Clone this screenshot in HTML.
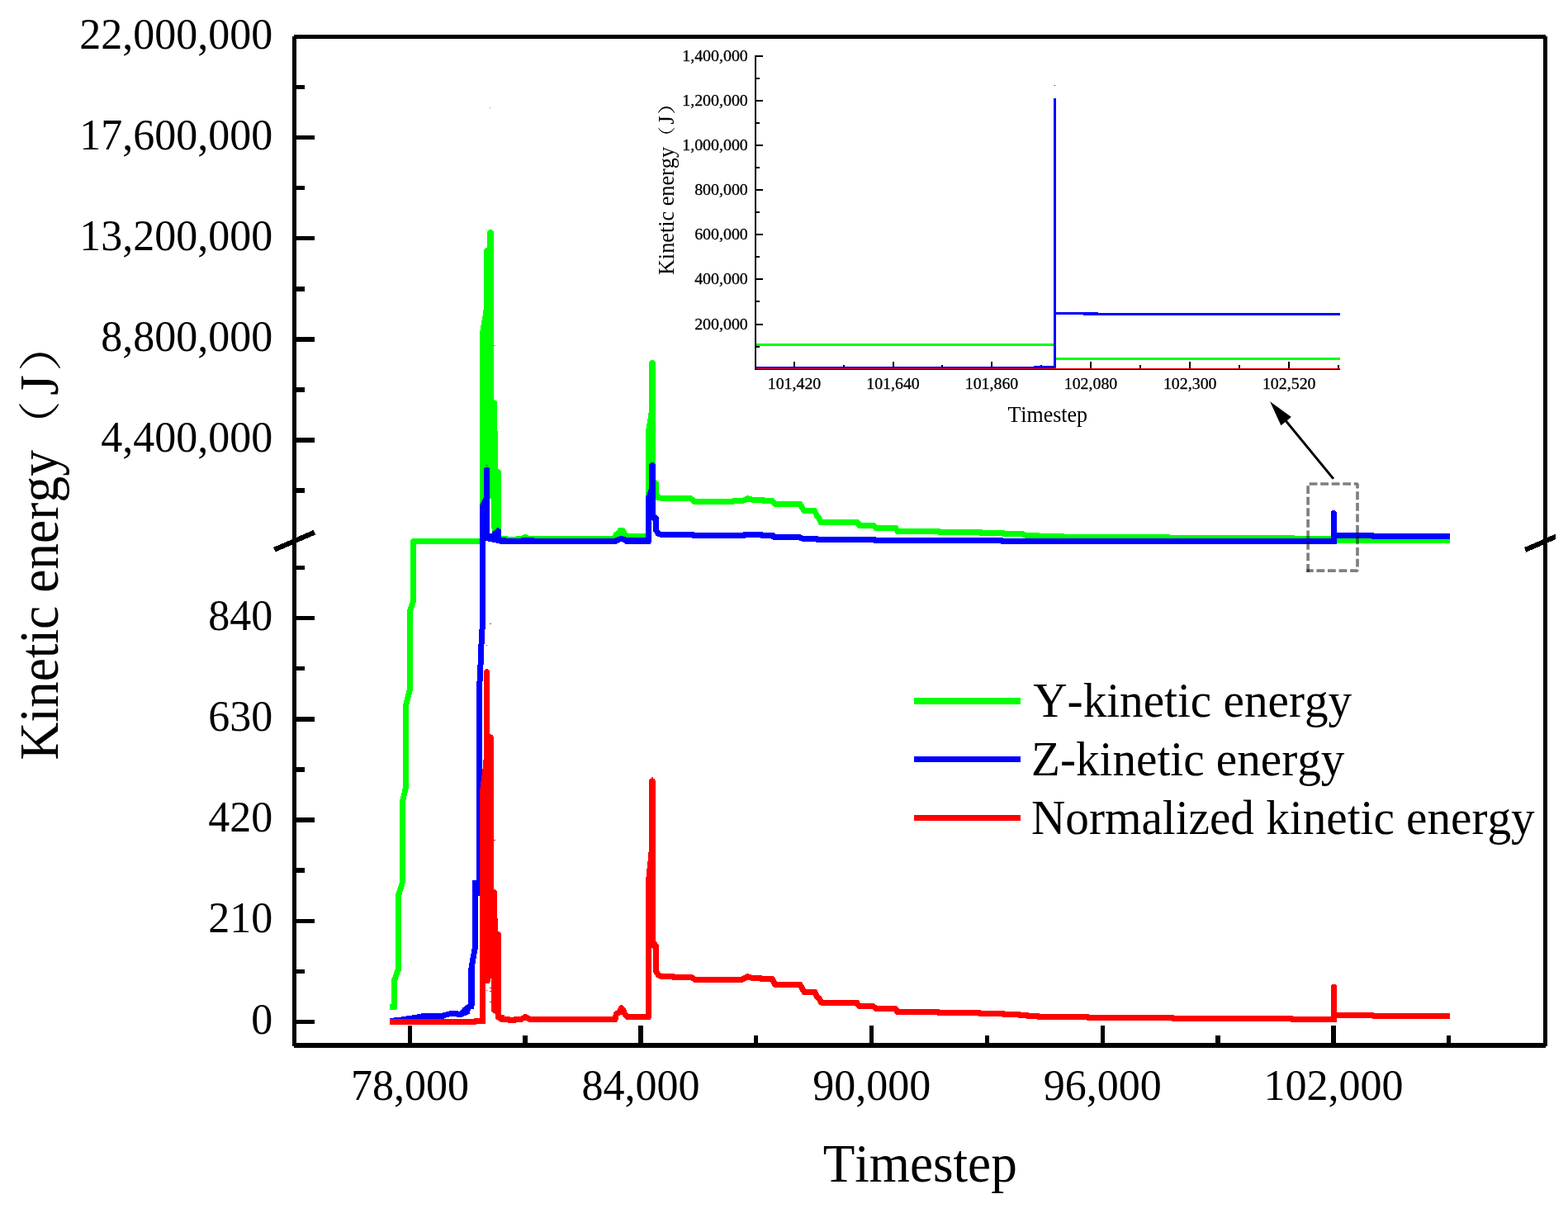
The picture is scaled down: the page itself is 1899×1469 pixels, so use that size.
<!DOCTYPE html>
<html lang="en">
<head>
<meta charset="utf-8">
<title>Kinetic energy vs Timestep</title>
<style>
html,body{margin:0;padding:0;background:#fff;}
body{width:1899px;height:1469px;overflow:hidden;}
svg{display:block;}
text{font-family:"Liberation Serif","Noto Serif CJK SC",serif;fill:#000;font-kerning:none;}
text.cjk{font-family:"Liberation Serif","Noto Serif CJK SC",serif;}
#inset text.tk{stroke:#000;stroke-width:0.3px;}
</style>
</head>
<body>
<svg xmlns="http://www.w3.org/2000/svg" width="1899" height="1469" viewBox="0 0 1899 1469">
<rect x="0" y="0" width="1899" height="1469" fill="#fff"/>
<g shape-rendering="crispEdges">
<g id="green">
<path d="M472.10,1223.00L477.50,1223.00L477.50,1216.00L472.10,1216.00ZM481.00,1219.50L481.00,1187.30L474.00,1187.30L474.00,1219.50ZM480.79,1188.51L485.89,1174.61L479.31,1172.19L474.21,1186.09ZM486.10,1173.40L486.10,1084.30L479.10,1084.30L479.10,1173.40ZM485.94,1085.36L490.34,1071.46L483.66,1069.34L479.26,1083.24ZM490.50,1070.40L490.50,972.40L483.50,972.40L483.50,1070.40ZM490.40,973.22L495.00,954.22L488.20,952.58L483.60,971.58ZM495.10,953.40L495.10,854.00L488.10,854.00L488.10,953.40ZM494.99,854.87L499.89,835.87L493.11,834.13L488.21,853.13ZM500.00,835.00L500.00,740.00L493.00,740.00L493.00,835.00ZM499.83,741.09L503.93,728.59L497.27,726.41L493.17,738.91ZM504.10,727.50L504.10,655.50L497.10,655.50L497.10,727.50ZM500.60,659.00L582.00,659.00L582.00,652.00L500.60,652.00ZM474.00,1219.50A3.5,3.5 0 1 0 481.00,1219.50A3.5,3.5 0 1 0 474.00,1219.50ZM474.00,1187.30A3.5,3.5 0 1 0 481.00,1187.30A3.5,3.5 0 1 0 474.00,1187.30ZM479.10,1173.40A3.5,3.5 0 1 0 486.10,1173.40A3.5,3.5 0 1 0 479.10,1173.40ZM479.10,1084.30A3.5,3.5 0 1 0 486.10,1084.30A3.5,3.5 0 1 0 479.10,1084.30ZM483.50,1070.40A3.5,3.5 0 1 0 490.50,1070.40A3.5,3.5 0 1 0 483.50,1070.40ZM483.50,972.40A3.5,3.5 0 1 0 490.50,972.40A3.5,3.5 0 1 0 483.50,972.40ZM488.10,953.40A3.5,3.5 0 1 0 495.10,953.40A3.5,3.5 0 1 0 488.10,953.40ZM488.10,854.00A3.5,3.5 0 1 0 495.10,854.00A3.5,3.5 0 1 0 488.10,854.00ZM493.00,835.00A3.5,3.5 0 1 0 500.00,835.00A3.5,3.5 0 1 0 493.00,835.00ZM493.00,740.00A3.5,3.5 0 1 0 500.00,740.00A3.5,3.5 0 1 0 493.00,740.00ZM497.10,727.50A3.5,3.5 0 1 0 504.10,727.50A3.5,3.5 0 1 0 497.10,727.50ZM497.10,655.50A3.5,3.5 0 1 0 504.10,655.50A3.5,3.5 0 1 0 497.10,655.50Z" fill="#00ff00" fill-rule="nonzero"/>
<polygon points="581.00,659.00 581.00,400.00 582.00,400.00 582.00,394.00 583.10,394.00 583.10,387.80 584.10,387.80 584.10,382.80 585.10,382.80 585.10,374.80 586.00,374.80 586.00,302.10 587.00,301.00 588.00,300.00 590.00,299.90 590.00,281.20 591.00,279.30 592.90,278.00 596.00,278.00 597.00,279.30 598.10,281.20 598.10,484.00 601.10,485.30 602.10,487.20 602.10,521.80 603.10,521.80 603.10,567.80 605.00,568.50 607.00,570.00 607.00,654.00 581.00,654.00" fill="#00ff00"/>
<rect x="589.00" y="278.00" width="1.00" height="1.00" fill="#00ff00"/>
<rect x="593.30" y="129.80" width="1.00" height="0.80" fill="#00ff00"/>
<rect x="598.00" y="418.00" width="2.00" height="1.00" fill="#00ff00"/>
<path d="M606.00,655.90L612.80,655.90L612.80,648.90L606.00,648.90ZM610.46,655.00L611.46,655.90L616.14,650.70L615.14,649.80ZM613.80,656.80L626.00,656.80L626.00,649.80L613.80,649.80ZM628.34,655.90L629.34,655.00L624.66,649.80L623.66,650.70ZM627.00,655.90L633.00,655.90L633.00,648.90L627.00,648.90ZM635.07,655.23L637.67,653.33L633.53,647.67L630.93,649.57ZM634.46,653.81L637.36,654.81L639.64,648.19L636.74,647.19ZM637.09,654.70L639.59,655.80L642.41,649.40L639.91,648.30ZM641.00,656.10L744.00,656.20L744.00,649.20L641.00,649.10ZM747.21,654.11L749.71,648.41L743.29,645.59L740.79,651.29ZM747.32,650.40L749.82,649.80L748.18,643.00L745.68,643.60ZM752.10,648.03L754.10,644.23L747.90,640.97L745.90,644.77ZM751.00,646.10L754.50,646.10L754.50,639.10L751.00,639.10ZM751.28,643.97L753.58,649.37L760.02,646.63L757.72,641.23ZM755.31,651.17L758.51,652.67L761.49,646.33L758.29,644.83ZM760.00,653.00L783.00,653.00L783.00,646.00L760.00,646.00ZM609.30,652.40A3.5,3.5 0 1 0 616.30,652.40A3.5,3.5 0 1 0 609.30,652.40ZM610.30,653.30A3.5,3.5 0 1 0 617.30,653.30A3.5,3.5 0 1 0 610.30,653.30ZM622.50,653.30A3.5,3.5 0 1 0 629.50,653.30A3.5,3.5 0 1 0 622.50,653.30ZM623.50,652.40A3.5,3.5 0 1 0 630.50,652.40A3.5,3.5 0 1 0 623.50,652.40ZM629.50,652.40A3.5,3.5 0 1 0 636.50,652.40A3.5,3.5 0 1 0 629.50,652.40ZM632.10,650.50A3.5,3.5 0 1 0 639.10,650.50A3.5,3.5 0 1 0 632.10,650.50ZM635.00,651.50A3.5,3.5 0 1 0 642.00,651.50A3.5,3.5 0 1 0 635.00,651.50ZM637.50,652.60A3.5,3.5 0 1 0 644.50,652.60A3.5,3.5 0 1 0 637.50,652.60ZM740.50,652.70A3.5,3.5 0 1 0 747.50,652.70A3.5,3.5 0 1 0 740.50,652.70ZM743.00,647.00A3.5,3.5 0 1 0 750.00,647.00A3.5,3.5 0 1 0 743.00,647.00ZM745.50,646.40A3.5,3.5 0 1 0 752.50,646.40A3.5,3.5 0 1 0 745.50,646.40ZM747.50,642.60A3.5,3.5 0 1 0 754.50,642.60A3.5,3.5 0 1 0 747.50,642.60ZM751.00,642.60A3.5,3.5 0 1 0 758.00,642.60A3.5,3.5 0 1 0 751.00,642.60ZM753.30,648.00A3.5,3.5 0 1 0 760.30,648.00A3.5,3.5 0 1 0 753.30,648.00ZM756.50,649.50A3.5,3.5 0 1 0 763.50,649.50A3.5,3.5 0 1 0 756.50,649.50Z" fill="#00ff00" fill-rule="nonzero"/>
<rect x="746.00" y="644.00" width="12.00" height="11.00" fill="#00ff00"/>
<polygon points="782.06,653.00 782.06,519.00 783.10,519.00 783.10,513.00 784.00,513.00 784.00,507.10 785.00,507.10 785.00,499.90 786.05,499.90 786.05,439.50 787.00,437.00 789.00,435.80 791.00,435.80 793.00,437.00 793.96,439.50 793.96,620.00 782.06,620.00" fill="#00ff00"/>
<path d="M788.88,584.82L791.98,588.32L797.22,583.68L794.12,580.18ZM791.10,586.00L791.10,598.50L798.10,598.50L798.10,586.00ZM791.64,600.37L794.04,604.17L799.96,600.43L797.56,596.63ZM795.92,605.63L799.92,606.93L802.08,600.27L798.08,598.97ZM801.00,607.10L836.50,607.10L836.50,600.10L801.00,600.10ZM834.31,606.33L839.31,610.33L843.69,604.87L838.69,600.87ZM841.43,611.10L846.33,611.20L846.47,604.20L841.57,604.10ZM846.40,611.20L886.90,611.20L886.90,604.20L846.40,604.20ZM889.12,610.41L890.22,609.51L885.78,604.09L884.68,604.99ZM888.00,610.30L899.00,610.30L899.00,603.30L888.00,603.30ZM900.45,609.98L907.25,606.88L904.35,600.52L897.55,603.62ZM904.77,607.05L910.97,608.95L913.03,602.25L906.83,600.35ZM912.00,609.10L924.00,609.10L924.00,602.10L912.00,602.10ZM921.81,608.33L923.31,609.53L927.69,604.07L926.19,602.87ZM925.50,610.30L935.50,610.30L935.50,603.30L925.50,603.30ZM932.82,609.05L936.02,612.85L941.38,608.35L938.18,604.55ZM938.70,614.10L969.00,614.10L969.00,607.10L938.70,607.10ZM966.01,612.42L971.01,620.62L976.99,616.98L971.99,608.78ZM974.00,622.30L986.70,622.30L986.70,615.30L974.00,615.30ZM983.56,620.34L986.36,626.04L992.64,622.96L989.84,617.26ZM986.81,626.74L989.31,629.74L994.69,625.26L992.19,622.26ZM988.80,628.92L991.10,634.12L997.50,631.28L995.20,626.08ZM994.30,636.20L1038.50,636.20L1038.50,629.20L994.30,629.20ZM1035.58,634.62L1038.08,638.42L1043.92,634.58L1041.42,630.78ZM1041.00,640.00L1057.50,640.00L1057.50,633.00L1041.00,633.00ZM1055.14,639.08L1058.64,642.28L1063.36,637.12L1059.86,633.92ZM1061.00,643.20L1085.00,643.20L1085.00,636.20L1061.00,636.20ZM1081.90,641.33L1083.90,645.13L1090.10,641.87L1088.10,638.07ZM1087.00,647.00L1137.00,647.00L1137.00,640.00L1087.00,640.00ZM1134.53,645.97L1135.53,646.97L1140.47,642.03L1139.47,641.03ZM1138.00,648.00L1187.50,648.00L1187.50,641.00L1138.00,641.00ZM1184.91,646.85L1185.91,647.95L1191.09,643.25L1190.09,642.15ZM1188.50,649.10L1214.70,649.10L1214.70,642.10L1188.50,642.10ZM1212.23,648.07L1213.23,649.07L1218.17,644.13L1217.17,643.13ZM1215.70,650.10L1238.00,650.10L1238.00,643.10L1215.70,643.10ZM1236.76,649.87L1241.76,651.77L1244.24,645.23L1239.24,643.33ZM1243.00,652.00L1257.00,652.00L1257.00,645.00L1243.00,645.00ZM1254.53,650.97L1255.53,651.97L1260.47,647.03L1259.47,646.03ZM1258.00,653.00L1286.70,653.00L1286.70,646.00L1258.00,646.00ZM1284.36,652.10L1285.36,653.00L1290.04,647.80L1289.04,646.90ZM1287.70,653.90L1414.90,653.90L1414.90,646.90L1287.70,646.90ZM1412.31,652.75L1413.31,653.85L1418.49,649.15L1417.49,648.05ZM1415.90,655.00L1565.80,655.00L1565.80,648.00L1415.90,648.00ZM1563.33,653.97L1564.33,654.97L1569.27,650.03L1568.27,649.03ZM1566.80,656.00L1617.00,656.00L1617.00,649.00L1566.80,649.00ZM1613.94,654.20L1614.94,656.00L1621.06,652.60L1620.06,650.80ZM1618.00,657.80L1756.00,657.80L1756.00,650.80L1618.00,650.80ZM791.10,586.00A3.5,3.5 0 1 0 798.10,586.00A3.5,3.5 0 1 0 791.10,586.00ZM791.10,598.50A3.5,3.5 0 1 0 798.10,598.50A3.5,3.5 0 1 0 791.10,598.50ZM793.50,602.30A3.5,3.5 0 1 0 800.50,602.30A3.5,3.5 0 1 0 793.50,602.30ZM797.50,603.60A3.5,3.5 0 1 0 804.50,603.60A3.5,3.5 0 1 0 797.50,603.60ZM833.00,603.60A3.5,3.5 0 1 0 840.00,603.60A3.5,3.5 0 1 0 833.00,603.60ZM838.00,607.60A3.5,3.5 0 1 0 845.00,607.60A3.5,3.5 0 1 0 838.00,607.60ZM842.90,607.70A3.5,3.5 0 1 0 849.90,607.70A3.5,3.5 0 1 0 842.90,607.70ZM883.40,607.70A3.5,3.5 0 1 0 890.40,607.70A3.5,3.5 0 1 0 883.40,607.70ZM884.50,606.80A3.5,3.5 0 1 0 891.50,606.80A3.5,3.5 0 1 0 884.50,606.80ZM895.50,606.80A3.5,3.5 0 1 0 902.50,606.80A3.5,3.5 0 1 0 895.50,606.80ZM902.30,603.70A3.5,3.5 0 1 0 909.30,603.70A3.5,3.5 0 1 0 902.30,603.70ZM908.50,605.60A3.5,3.5 0 1 0 915.50,605.60A3.5,3.5 0 1 0 908.50,605.60ZM920.50,605.60A3.5,3.5 0 1 0 927.50,605.60A3.5,3.5 0 1 0 920.50,605.60ZM922.00,606.80A3.5,3.5 0 1 0 929.00,606.80A3.5,3.5 0 1 0 922.00,606.80ZM932.00,606.80A3.5,3.5 0 1 0 939.00,606.80A3.5,3.5 0 1 0 932.00,606.80ZM935.20,610.60A3.5,3.5 0 1 0 942.20,610.60A3.5,3.5 0 1 0 935.20,610.60ZM965.50,610.60A3.5,3.5 0 1 0 972.50,610.60A3.5,3.5 0 1 0 965.50,610.60ZM970.50,618.80A3.5,3.5 0 1 0 977.50,618.80A3.5,3.5 0 1 0 970.50,618.80ZM983.20,618.80A3.5,3.5 0 1 0 990.20,618.80A3.5,3.5 0 1 0 983.20,618.80ZM986.00,624.50A3.5,3.5 0 1 0 993.00,624.50A3.5,3.5 0 1 0 986.00,624.50ZM988.50,627.50A3.5,3.5 0 1 0 995.50,627.50A3.5,3.5 0 1 0 988.50,627.50ZM990.80,632.70A3.5,3.5 0 1 0 997.80,632.70A3.5,3.5 0 1 0 990.80,632.70ZM1035.00,632.70A3.5,3.5 0 1 0 1042.00,632.70A3.5,3.5 0 1 0 1035.00,632.70ZM1037.50,636.50A3.5,3.5 0 1 0 1044.50,636.50A3.5,3.5 0 1 0 1037.50,636.50ZM1054.00,636.50A3.5,3.5 0 1 0 1061.00,636.50A3.5,3.5 0 1 0 1054.00,636.50ZM1057.50,639.70A3.5,3.5 0 1 0 1064.50,639.70A3.5,3.5 0 1 0 1057.50,639.70ZM1081.50,639.70A3.5,3.5 0 1 0 1088.50,639.70A3.5,3.5 0 1 0 1081.50,639.70ZM1083.50,643.50A3.5,3.5 0 1 0 1090.50,643.50A3.5,3.5 0 1 0 1083.50,643.50ZM1133.50,643.50A3.5,3.5 0 1 0 1140.50,643.50A3.5,3.5 0 1 0 1133.50,643.50ZM1134.50,644.50A3.5,3.5 0 1 0 1141.50,644.50A3.5,3.5 0 1 0 1134.50,644.50ZM1184.00,644.50A3.5,3.5 0 1 0 1191.00,644.50A3.5,3.5 0 1 0 1184.00,644.50ZM1185.00,645.60A3.5,3.5 0 1 0 1192.00,645.60A3.5,3.5 0 1 0 1185.00,645.60ZM1211.20,645.60A3.5,3.5 0 1 0 1218.20,645.60A3.5,3.5 0 1 0 1211.20,645.60ZM1212.20,646.60A3.5,3.5 0 1 0 1219.20,646.60A3.5,3.5 0 1 0 1212.20,646.60ZM1234.50,646.60A3.5,3.5 0 1 0 1241.50,646.60A3.5,3.5 0 1 0 1234.50,646.60ZM1239.50,648.50A3.5,3.5 0 1 0 1246.50,648.50A3.5,3.5 0 1 0 1239.50,648.50ZM1253.50,648.50A3.5,3.5 0 1 0 1260.50,648.50A3.5,3.5 0 1 0 1253.50,648.50ZM1254.50,649.50A3.5,3.5 0 1 0 1261.50,649.50A3.5,3.5 0 1 0 1254.50,649.50ZM1283.20,649.50A3.5,3.5 0 1 0 1290.20,649.50A3.5,3.5 0 1 0 1283.20,649.50ZM1284.20,650.40A3.5,3.5 0 1 0 1291.20,650.40A3.5,3.5 0 1 0 1284.20,650.40ZM1411.40,650.40A3.5,3.5 0 1 0 1418.40,650.40A3.5,3.5 0 1 0 1411.40,650.40ZM1412.40,651.50A3.5,3.5 0 1 0 1419.40,651.50A3.5,3.5 0 1 0 1412.40,651.50ZM1562.30,651.50A3.5,3.5 0 1 0 1569.30,651.50A3.5,3.5 0 1 0 1562.30,651.50ZM1563.30,652.50A3.5,3.5 0 1 0 1570.30,652.50A3.5,3.5 0 1 0 1563.30,652.50ZM1613.50,652.50A3.5,3.5 0 1 0 1620.50,652.50A3.5,3.5 0 1 0 1613.50,652.50ZM1614.50,654.30A3.5,3.5 0 1 0 1621.50,654.30A3.5,3.5 0 1 0 1614.50,654.30Z" fill="#00ff00" fill-rule="nonzero"/>
<rect x="593.07" y="604.20" width="1.93" height="41.80" fill="#fff"/>
<rect x="595.00" y="640.00" width="0.70" height="6.00" fill="#fff"/>
</g>
<g id="blue">
<path d="M472.49,1240.08L481.39,1239.08L480.61,1232.12L471.71,1233.12ZM481.43,1239.07L489.43,1238.07L488.57,1231.13L480.57,1232.13ZM489.58,1238.05L495.58,1237.05L494.42,1230.15L488.42,1231.15ZM495.48,1237.07L503.48,1235.97L502.52,1229.03L494.52,1230.13ZM503.69,1235.93L508.69,1234.93L507.31,1228.07L502.31,1229.07ZM508.69,1234.93L513.69,1233.93L512.31,1227.07L507.31,1228.07ZM513.00,1234.00L536.00,1234.00L536.00,1227.00L513.00,1227.00ZM537.57,1233.63L539.57,1232.63L536.43,1226.37L534.43,1227.37ZM538.85,1232.90L542.85,1231.90L541.15,1225.10L537.15,1226.10ZM542.85,1231.90L546.85,1230.90L545.15,1224.10L541.15,1225.10ZM546.00,1231.00L553.00,1231.00L553.00,1224.00L546.00,1224.00ZM551.43,1230.63L553.43,1231.63L556.57,1225.37L554.57,1224.37ZM555.00,1232.00L558.00,1232.00L558.00,1225.00L555.00,1225.00ZM560.59,1230.85L565.59,1225.35L560.41,1220.65L555.41,1226.15ZM565.10,1225.80L569.10,1222.80L564.90,1217.20L560.90,1220.20ZM569.24,1222.69L572.24,1220.19L567.76,1214.81L564.76,1217.31ZM573.37,1218.46L574.37,1214.96L567.63,1213.04L566.63,1216.54ZM574.50,1214.00L574.50,1172.00L567.50,1172.00L567.50,1214.00ZM574.45,1172.61L579.05,1146.61L572.15,1145.39L567.55,1171.39ZM579.10,1146.00L579.10,1068.00L572.10,1068.00L572.10,1146.00ZM477.50,1235.60A3.5,3.5 0 1 0 484.50,1235.60A3.5,3.5 0 1 0 477.50,1235.60ZM485.50,1234.60A3.5,3.5 0 1 0 492.50,1234.60A3.5,3.5 0 1 0 485.50,1234.60ZM491.50,1233.60A3.5,3.5 0 1 0 498.50,1233.60A3.5,3.5 0 1 0 491.50,1233.60ZM499.50,1232.50A3.5,3.5 0 1 0 506.50,1232.50A3.5,3.5 0 1 0 499.50,1232.50ZM509.50,1230.50A3.5,3.5 0 1 0 516.50,1230.50A3.5,3.5 0 1 0 509.50,1230.50ZM532.50,1230.50A3.5,3.5 0 1 0 539.50,1230.50A3.5,3.5 0 1 0 532.50,1230.50ZM534.50,1229.50A3.5,3.5 0 1 0 541.50,1229.50A3.5,3.5 0 1 0 534.50,1229.50ZM542.50,1227.50A3.5,3.5 0 1 0 549.50,1227.50A3.5,3.5 0 1 0 542.50,1227.50ZM549.50,1227.50A3.5,3.5 0 1 0 556.50,1227.50A3.5,3.5 0 1 0 549.50,1227.50ZM551.50,1228.50A3.5,3.5 0 1 0 558.50,1228.50A3.5,3.5 0 1 0 551.50,1228.50ZM554.50,1228.50A3.5,3.5 0 1 0 561.50,1228.50A3.5,3.5 0 1 0 554.50,1228.50ZM559.50,1223.00A3.5,3.5 0 1 0 566.50,1223.00A3.5,3.5 0 1 0 559.50,1223.00ZM563.50,1220.00A3.5,3.5 0 1 0 570.50,1220.00A3.5,3.5 0 1 0 563.50,1220.00ZM566.50,1217.50A3.5,3.5 0 1 0 573.50,1217.50A3.5,3.5 0 1 0 566.50,1217.50ZM567.50,1214.00A3.5,3.5 0 1 0 574.50,1214.00A3.5,3.5 0 1 0 567.50,1214.00ZM567.50,1172.00A3.5,3.5 0 1 0 574.50,1172.00A3.5,3.5 0 1 0 567.50,1172.00ZM572.10,1146.00A3.5,3.5 0 1 0 579.10,1146.00A3.5,3.5 0 1 0 572.10,1146.00Z" fill="#0000ff" fill-rule="nonzero"/>
<rect x="572.16" y="1066.00" width="9.34" height="18.70" fill="#0000ff"/>
<rect x="567.00" y="1172.00" width="8.00" height="44.00" fill="#0000ff"/>
<polygon points="558.00,1225.00 559.80,1231.00 563.90,1230.00 568.60,1227.70 569.90,1222.00 574.00,1222.00 574.00,1217.60 575.00,1217.60 575.00,1215.00 567.00,1215.00" fill="#0000ff"/>
<path d="M584.00,1072.00L584.00,835.00L577.00,835.00L577.00,1072.00ZM584.00,835.18L585.00,816.18L578.00,815.82L577.00,834.82ZM585.00,816.17L586.00,795.17L579.00,794.83L578.00,815.83ZM586.00,795.12L587.00,765.12L580.00,764.88L579.00,794.88ZM586.95,765.58L587.95,759.58L581.05,758.42L580.05,764.42ZM588.00,759.00L588.00,640.00L581.00,640.00L581.00,759.00ZM577.00,835.00A3.5,3.5 0 1 0 584.00,835.00A3.5,3.5 0 1 0 577.00,835.00ZM578.00,816.00A3.5,3.5 0 1 0 585.00,816.00A3.5,3.5 0 1 0 578.00,816.00ZM579.00,795.00A3.5,3.5 0 1 0 586.00,795.00A3.5,3.5 0 1 0 579.00,795.00ZM580.00,765.00A3.5,3.5 0 1 0 587.00,765.00A3.5,3.5 0 1 0 580.00,765.00ZM581.00,759.00A3.5,3.5 0 1 0 588.00,759.00A3.5,3.5 0 1 0 581.00,759.00Z" fill="#0000ff" fill-rule="nonzero"/>
<polygon points="581.04,662.00 581.04,611.80 582.00,609.80 583.00,607.70 584.00,605.70 585.00,603.70 586.00,601.70 586.00,568.00 587.00,566.70 588.00,566.10 591.00,566.10 592.20,566.70 593.07,568.00 593.07,646.00 595.70,646.00 596.50,643.60 598.50,643.00 602.20,639.10 603.50,639.10 605.00,640.30 607.00,641.30 607.00,658.90 603.00,657.90 598.00,656.80 593.00,655.90 588.00,654.90 588.00,662.00" fill="#0000ff"/>
<rect x="589.00" y="563.00" width="1.00" height="1.00" fill="#0000ff"/>
<polygon points="606.00,651.00 612.50,651.00 612.50,652.00 631.00,652.00 631.00,651.00 646.50,651.00 646.50,652.00 745.50,652.00 745.50,659.00 606.00,659.00" fill="#0000ff"/>
<path d="M746.57,658.63L749.57,657.13L746.43,650.87L743.43,652.37ZM749.30,657.25L753.30,655.65L750.70,649.15L746.70,650.75ZM751.07,655.77L755.07,656.87L756.93,650.13L752.93,649.03ZM754.20,656.50L757.20,658.30L760.80,652.30L757.80,650.50ZM759.00,658.80L783.00,658.80L783.00,651.80L759.00,651.80ZM744.50,654.00A3.5,3.5 0 1 0 751.50,654.00A3.5,3.5 0 1 0 744.50,654.00ZM748.50,652.40A3.5,3.5 0 1 0 755.50,652.40A3.5,3.5 0 1 0 748.50,652.40ZM752.50,653.50A3.5,3.5 0 1 0 759.50,653.50A3.5,3.5 0 1 0 752.50,653.50ZM755.50,655.30A3.5,3.5 0 1 0 762.50,655.30A3.5,3.5 0 1 0 755.50,655.30Z" fill="#0000ff" fill-rule="nonzero"/>
<rect x="758.50" y="651.00" width="24.50" height="8.00" fill="#0000ff"/>
<polygon points="782.06,658.90 782.06,602.90 783.00,600.00 784.00,597.50 785.00,594.50 786.05,591.80 786.05,563.00 787.00,561.00 788.50,560.00 791.50,560.00 793.00,561.00 793.96,563.00 793.96,626.00 791.10,631.20 788.90,629.90 788.90,656.50 787.50,658.90" fill="#0000ff"/>
<path d="M788.73,626.64L791.83,630.64L797.37,626.36L794.27,622.36ZM791.10,628.50L791.10,642.00L798.10,642.00L798.10,628.50ZM791.60,643.80L794.00,647.80L800.00,644.20L797.60,640.20ZM795.70,649.25L799.70,650.85L802.30,644.35L798.30,642.75ZM801.00,651.10L839.50,651.10L839.50,644.10L801.00,644.10ZM837.16,650.20L838.16,651.10L842.84,645.90L841.84,645.00ZM840.50,652.00L900.80,652.00L900.80,645.00L840.50,645.00ZM903.27,650.97L904.27,649.97L899.33,645.03L898.33,646.03ZM901.80,651.00L921.60,651.00L921.60,644.00L901.80,644.00ZM919.13,649.97L920.13,650.97L925.07,646.03L924.07,645.03ZM922.60,652.00L935.50,652.00L935.50,645.00L922.60,645.00ZM933.03,650.97L934.93,652.87L939.87,647.93L937.97,646.03ZM937.40,653.90L967.80,653.90L967.80,646.90L937.40,646.90ZM966.39,653.60L971.39,655.80L974.21,649.40L969.21,647.20ZM972.80,656.10L989.50,656.10L989.50,649.10L972.80,649.10ZM987.03,655.07L988.03,656.07L992.97,651.13L991.97,650.13ZM990.50,657.10L1058.80,657.10L1058.80,650.10L990.50,650.10ZM1056.46,656.20L1057.46,657.10L1062.14,651.90L1061.14,651.00ZM1059.80,658.00L1212.80,658.00L1212.80,651.00L1059.80,651.00ZM1210.33,656.97L1211.33,657.97L1216.27,653.03L1215.27,652.03ZM1213.80,659.00L1613.00,659.00L1613.00,652.00L1213.80,652.00ZM791.10,628.50A3.5,3.5 0 1 0 798.10,628.50A3.5,3.5 0 1 0 791.10,628.50ZM791.10,642.00A3.5,3.5 0 1 0 798.10,642.00A3.5,3.5 0 1 0 791.10,642.00ZM793.50,646.00A3.5,3.5 0 1 0 800.50,646.00A3.5,3.5 0 1 0 793.50,646.00ZM797.50,647.60A3.5,3.5 0 1 0 804.50,647.60A3.5,3.5 0 1 0 797.50,647.60ZM836.00,647.60A3.5,3.5 0 1 0 843.00,647.60A3.5,3.5 0 1 0 836.00,647.60ZM837.00,648.50A3.5,3.5 0 1 0 844.00,648.50A3.5,3.5 0 1 0 837.00,648.50ZM897.30,648.50A3.5,3.5 0 1 0 904.30,648.50A3.5,3.5 0 1 0 897.30,648.50ZM898.30,647.50A3.5,3.5 0 1 0 905.30,647.50A3.5,3.5 0 1 0 898.30,647.50ZM918.10,647.50A3.5,3.5 0 1 0 925.10,647.50A3.5,3.5 0 1 0 918.10,647.50ZM919.10,648.50A3.5,3.5 0 1 0 926.10,648.50A3.5,3.5 0 1 0 919.10,648.50ZM932.00,648.50A3.5,3.5 0 1 0 939.00,648.50A3.5,3.5 0 1 0 932.00,648.50ZM933.90,650.40A3.5,3.5 0 1 0 940.90,650.40A3.5,3.5 0 1 0 933.90,650.40ZM964.30,650.40A3.5,3.5 0 1 0 971.30,650.40A3.5,3.5 0 1 0 964.30,650.40ZM969.30,652.60A3.5,3.5 0 1 0 976.30,652.60A3.5,3.5 0 1 0 969.30,652.60ZM986.00,652.60A3.5,3.5 0 1 0 993.00,652.60A3.5,3.5 0 1 0 986.00,652.60ZM987.00,653.60A3.5,3.5 0 1 0 994.00,653.60A3.5,3.5 0 1 0 987.00,653.60ZM1055.30,653.60A3.5,3.5 0 1 0 1062.30,653.60A3.5,3.5 0 1 0 1055.30,653.60ZM1056.30,654.50A3.5,3.5 0 1 0 1063.30,654.50A3.5,3.5 0 1 0 1056.30,654.50ZM1209.30,654.50A3.5,3.5 0 1 0 1216.30,654.50A3.5,3.5 0 1 0 1209.30,654.50ZM1210.30,655.50A3.5,3.5 0 1 0 1217.30,655.50A3.5,3.5 0 1 0 1210.30,655.50Z" fill="#0000ff" fill-rule="nonzero"/>
<path d="M1618.90,659.00L1618.90,621.50L1611.90,621.50L1611.90,659.00Z" fill="#0000ff" fill-rule="nonzero"/>
<circle cx="1615.4" cy="621.5" r="3.5" fill="#0000ff"/>
<path d="M1612.00,659.00L1615.40,659.00L1615.40,652.00L1612.00,652.00Z" fill="#0000ff" fill-rule="nonzero"/>
<path d="M1615.40,652.15L1662.50,652.15L1662.50,645.15L1615.40,645.15ZM1660.16,651.25L1661.16,652.15L1665.84,646.95L1664.84,646.05ZM1663.50,653.05L1756.00,653.05L1756.00,646.05L1663.50,646.05ZM1659.00,648.65A3.5,3.5 0 1 0 1666.00,648.65A3.5,3.5 0 1 0 1659.00,648.65ZM1660.00,649.55A3.5,3.5 0 1 0 1667.00,649.55A3.5,3.5 0 1 0 1660.00,649.55Z" fill="#0000ff" fill-rule="nonzero"/>
</g>
<g id="red">
<path d="M472.10,1241.00L574.50,1241.00L574.50,1234.00L472.10,1234.00ZM576.44,1240.41L577.94,1239.41L574.06,1233.59L572.56,1234.59ZM576.00,1240.00L585.00,1240.00L585.00,1233.00L576.00,1233.00ZM571.00,1237.50A3.5,3.5 0 1 0 578.00,1237.50A3.5,3.5 0 1 0 571.00,1237.50ZM572.50,1236.50A3.5,3.5 0 1 0 579.50,1236.50A3.5,3.5 0 1 0 572.50,1236.50Z" fill="#ff0000" fill-rule="nonzero"/>
<polygon points="581.03,1240.00 581.03,954.80 582.04,954.80 582.04,946.00 583.00,946.00 583.00,938.90 584.07,938.90 584.07,931.10 585.20,931.10 585.20,919.80 586.20,919.80 586.20,813.00 587.20,811.20 588.50,810.40 590.50,810.40 591.80,811.20 592.80,813.00 592.80,889.20 596.50,889.80 597.80,892.00 597.80,1076.80 600.50,1077.50 601.90,1080.00 601.90,1111.70 603.07,1111.70 603.07,1127.90 605.00,1128.30 607.00,1130.40 607.00,1238.00 606.20,1237.80 600.00,1233.80 600.00,1228.10 594.96,1224.90 594.96,1185.00 593.90,1185.00 593.90,1188.80 592.90,1188.80 592.90,1191.00 587.87,1191.00 587.87,1240.00" fill="#ff0000"/>
<rect x="593.00" y="755.00" width="2.00" height="1.00" fill="#ff0000"/>
<rect x="589.00" y="781.00" width="1.00" height="1.00" fill="#ff0000"/>
<rect x="606.00" y="1229.00" width="4.50" height="3.00" fill="#ff0000"/>
<rect x="597.80" y="1017.00" width="2.20" height="1.00" fill="#ff0000"/>
<rect x="592.90" y="1196.00" width="2.06" height="1.00" fill="#ff0000"/>
<rect x="592.90" y="1200.00" width="2.06" height="1.00" fill="#ff0000"/>
<rect x="592.90" y="1213.00" width="2.06" height="1.00" fill="#ff0000"/>
<rect x="589.00" y="1199.00" width="1.00" height="1.00" fill="#ff0000"/>
<path d="M606.00,1237.90L616.00,1237.90L616.00,1230.90L606.00,1230.90ZM613.66,1237.00L614.66,1237.90L619.34,1232.70L618.34,1231.80ZM617.00,1238.80L623.00,1238.80L623.00,1231.80L617.00,1231.80ZM625.34,1237.90L626.34,1237.00L621.66,1231.80L620.66,1232.70ZM624.00,1237.90L631.00,1237.90L631.00,1230.90L624.00,1230.90ZM632.63,1237.49L637.93,1234.69L634.67,1228.51L629.37,1231.31ZM634.64,1234.68L639.84,1237.48L643.16,1231.32L637.96,1228.52ZM641.50,1237.90L745.00,1238.00L745.00,1231.00L641.50,1230.90ZM748.42,1235.23L749.92,1228.23L743.08,1226.77L741.58,1233.77ZM747.88,1230.72L751.38,1229.22L748.62,1222.78L745.12,1224.28ZM753.18,1227.47L755.68,1222.07L749.32,1219.13L746.82,1224.53ZM749.68,1222.67L752.18,1226.07L757.82,1221.93L755.32,1218.53ZM751.80,1225.42L753.80,1229.92L760.20,1227.08L758.20,1222.58ZM754.57,1231.02L757.57,1233.92L762.43,1228.88L759.43,1225.98ZM760.00,1234.90L783.00,1234.90L783.00,1227.90L760.00,1227.90ZM612.50,1234.40A3.5,3.5 0 1 0 619.50,1234.40A3.5,3.5 0 1 0 612.50,1234.40ZM613.50,1235.30A3.5,3.5 0 1 0 620.50,1235.30A3.5,3.5 0 1 0 613.50,1235.30ZM619.50,1235.30A3.5,3.5 0 1 0 626.50,1235.30A3.5,3.5 0 1 0 619.50,1235.30ZM620.50,1234.40A3.5,3.5 0 1 0 627.50,1234.40A3.5,3.5 0 1 0 620.50,1234.40ZM627.50,1234.40A3.5,3.5 0 1 0 634.50,1234.40A3.5,3.5 0 1 0 627.50,1234.40ZM632.80,1231.60A3.5,3.5 0 1 0 639.80,1231.60A3.5,3.5 0 1 0 632.80,1231.60ZM638.00,1234.40A3.5,3.5 0 1 0 645.00,1234.40A3.5,3.5 0 1 0 638.00,1234.40ZM741.50,1234.50A3.5,3.5 0 1 0 748.50,1234.50A3.5,3.5 0 1 0 741.50,1234.50ZM743.00,1227.50A3.5,3.5 0 1 0 750.00,1227.50A3.5,3.5 0 1 0 743.00,1227.50ZM746.50,1226.00A3.5,3.5 0 1 0 753.50,1226.00A3.5,3.5 0 1 0 746.50,1226.00ZM749.00,1220.60A3.5,3.5 0 1 0 756.00,1220.60A3.5,3.5 0 1 0 749.00,1220.60ZM751.50,1224.00A3.5,3.5 0 1 0 758.50,1224.00A3.5,3.5 0 1 0 751.50,1224.00ZM753.50,1228.50A3.5,3.5 0 1 0 760.50,1228.50A3.5,3.5 0 1 0 753.50,1228.50ZM756.50,1231.40A3.5,3.5 0 1 0 763.50,1231.40A3.5,3.5 0 1 0 756.50,1231.40Z" fill="#ff0000" fill-rule="nonzero"/>
<polygon points="782.06,1235.00 782.06,1062.00 783.10,1062.00 783.10,1052.00 784.00,1052.00 784.00,1042.90 785.10,1042.90 785.10,1031.90 786.05,1031.90 786.05,945.50 787.00,943.10 789.20,943.10 789.20,940.90 791.10,940.90 791.10,943.10 793.00,943.10 793.96,945.80 793.96,1143.00 791.10,1149.00 788.90,1147.80 788.90,1232.00 787.50,1235.00" fill="#ff0000"/>
<path d="M788.62,1143.49L791.72,1147.99L797.48,1144.01L794.38,1139.51ZM791.10,1146.00L791.10,1176.00L798.10,1176.00L798.10,1146.00ZM791.51,1177.65L793.91,1182.15L800.09,1178.85L797.69,1174.35ZM795.43,1183.63L799.43,1185.63L802.57,1179.37L798.57,1177.37ZM801.00,1186.00L815.00,1186.00L815.00,1179.00L801.00,1179.00ZM812.53,1184.97L813.53,1185.97L818.47,1181.03L817.47,1180.03ZM816.00,1187.00L837.00,1187.00L837.00,1180.00L816.00,1180.00ZM835.30,1186.56L840.90,1189.66L844.30,1183.54L838.70,1180.44ZM842.60,1190.10L898.00,1190.10L898.00,1183.10L842.60,1183.10ZM899.57,1189.73L907.37,1185.83L904.23,1179.57L896.43,1183.47ZM904.73,1186.03L910.93,1188.03L913.07,1181.37L906.87,1179.37ZM912.00,1188.20L921.00,1188.20L921.00,1181.20L912.00,1181.20ZM918.41,1187.05L919.41,1188.15L924.59,1183.45L923.59,1182.35ZM922.00,1189.30L935.50,1189.30L935.50,1182.30L922.00,1182.30ZM932.34,1187.31L935.54,1194.01L941.86,1190.99L938.66,1184.29ZM938.70,1196.00L969.00,1196.00L969.00,1189.00L938.70,1189.00ZM965.95,1194.21L970.95,1203.11L977.05,1199.69L972.05,1190.79ZM974.00,1204.90L986.70,1204.90L986.70,1197.90L974.00,1197.90ZM983.57,1202.97L986.37,1208.57L992.63,1205.43L989.83,1199.83ZM987.31,1209.73L989.81,1211.73L994.19,1206.27L991.69,1204.27ZM988.82,1210.46L991.12,1215.46L997.48,1212.54L995.18,1207.54ZM994.30,1217.50L1037.30,1217.50L1037.30,1210.50L994.30,1210.50ZM1034.55,1216.16L1038.25,1220.86L1043.75,1216.54L1040.05,1211.84ZM1041.00,1222.20L1057.50,1222.20L1057.50,1215.20L1041.00,1215.20ZM1055.38,1221.48L1059.18,1224.38L1063.42,1218.82L1059.62,1215.92ZM1061.30,1225.10L1084.50,1225.10L1084.50,1218.10L1061.30,1218.10ZM1081.53,1223.45L1084.03,1227.45L1089.97,1223.75L1087.47,1219.75ZM1087.00,1229.10L1135.70,1229.10L1135.70,1222.10L1087.00,1222.10ZM1133.23,1228.07L1134.23,1229.07L1139.17,1224.13L1138.17,1223.13ZM1136.70,1230.10L1186.30,1230.10L1186.30,1223.10L1136.70,1223.10ZM1183.83,1229.07L1184.83,1230.07L1189.77,1225.13L1188.77,1224.13ZM1187.30,1231.10L1215.30,1231.10L1215.30,1224.10L1187.30,1224.10ZM1212.96,1230.20L1213.96,1231.10L1218.64,1225.90L1217.64,1225.00ZM1216.30,1232.00L1233.70,1232.00L1233.70,1225.00L1216.30,1225.00ZM1231.23,1230.97L1232.23,1231.97L1237.17,1227.03L1236.17,1226.03ZM1234.70,1233.00L1243.80,1233.00L1243.80,1226.00L1234.70,1226.00ZM1241.46,1232.10L1242.46,1233.00L1247.14,1227.80L1246.14,1226.90ZM1244.80,1233.90L1257.00,1233.90L1257.00,1226.90L1244.80,1226.90ZM1254.53,1232.87L1255.53,1233.87L1260.47,1228.93L1259.47,1227.93ZM1258.00,1234.90L1317.00,1234.90L1317.00,1227.90L1258.00,1227.90ZM1314.41,1233.75L1315.41,1234.85L1320.59,1230.15L1319.59,1229.05ZM1318.00,1236.00L1420.00,1236.00L1420.00,1229.00L1318.00,1229.00ZM1417.53,1234.97L1418.53,1235.97L1423.47,1231.03L1422.47,1230.03ZM1421.00,1237.00L1564.00,1237.00L1564.00,1230.00L1421.00,1230.00ZM1561.81,1236.23L1562.81,1237.03L1567.19,1231.57L1566.19,1230.77ZM1565.00,1237.80L1613.00,1237.80L1613.00,1230.80L1565.00,1230.80ZM791.10,1146.00A3.5,3.5 0 1 0 798.10,1146.00A3.5,3.5 0 1 0 791.10,1146.00ZM791.10,1176.00A3.5,3.5 0 1 0 798.10,1176.00A3.5,3.5 0 1 0 791.10,1176.00ZM793.50,1180.50A3.5,3.5 0 1 0 800.50,1180.50A3.5,3.5 0 1 0 793.50,1180.50ZM797.50,1182.50A3.5,3.5 0 1 0 804.50,1182.50A3.5,3.5 0 1 0 797.50,1182.50ZM811.50,1182.50A3.5,3.5 0 1 0 818.50,1182.50A3.5,3.5 0 1 0 811.50,1182.50ZM812.50,1183.50A3.5,3.5 0 1 0 819.50,1183.50A3.5,3.5 0 1 0 812.50,1183.50ZM833.50,1183.50A3.5,3.5 0 1 0 840.50,1183.50A3.5,3.5 0 1 0 833.50,1183.50ZM839.10,1186.60A3.5,3.5 0 1 0 846.10,1186.60A3.5,3.5 0 1 0 839.10,1186.60ZM894.50,1186.60A3.5,3.5 0 1 0 901.50,1186.60A3.5,3.5 0 1 0 894.50,1186.60ZM902.30,1182.70A3.5,3.5 0 1 0 909.30,1182.70A3.5,3.5 0 1 0 902.30,1182.70ZM908.50,1184.70A3.5,3.5 0 1 0 915.50,1184.70A3.5,3.5 0 1 0 908.50,1184.70ZM917.50,1184.70A3.5,3.5 0 1 0 924.50,1184.70A3.5,3.5 0 1 0 917.50,1184.70ZM918.50,1185.80A3.5,3.5 0 1 0 925.50,1185.80A3.5,3.5 0 1 0 918.50,1185.80ZM932.00,1185.80A3.5,3.5 0 1 0 939.00,1185.80A3.5,3.5 0 1 0 932.00,1185.80ZM935.20,1192.50A3.5,3.5 0 1 0 942.20,1192.50A3.5,3.5 0 1 0 935.20,1192.50ZM965.50,1192.50A3.5,3.5 0 1 0 972.50,1192.50A3.5,3.5 0 1 0 965.50,1192.50ZM970.50,1201.40A3.5,3.5 0 1 0 977.50,1201.40A3.5,3.5 0 1 0 970.50,1201.40ZM983.20,1201.40A3.5,3.5 0 1 0 990.20,1201.40A3.5,3.5 0 1 0 983.20,1201.40ZM986.00,1207.00A3.5,3.5 0 1 0 993.00,1207.00A3.5,3.5 0 1 0 986.00,1207.00ZM988.50,1209.00A3.5,3.5 0 1 0 995.50,1209.00A3.5,3.5 0 1 0 988.50,1209.00ZM990.80,1214.00A3.5,3.5 0 1 0 997.80,1214.00A3.5,3.5 0 1 0 990.80,1214.00ZM1033.80,1214.00A3.5,3.5 0 1 0 1040.80,1214.00A3.5,3.5 0 1 0 1033.80,1214.00ZM1037.50,1218.70A3.5,3.5 0 1 0 1044.50,1218.70A3.5,3.5 0 1 0 1037.50,1218.70ZM1054.00,1218.70A3.5,3.5 0 1 0 1061.00,1218.70A3.5,3.5 0 1 0 1054.00,1218.70ZM1057.80,1221.60A3.5,3.5 0 1 0 1064.80,1221.60A3.5,3.5 0 1 0 1057.80,1221.60ZM1081.00,1221.60A3.5,3.5 0 1 0 1088.00,1221.60A3.5,3.5 0 1 0 1081.00,1221.60ZM1083.50,1225.60A3.5,3.5 0 1 0 1090.50,1225.60A3.5,3.5 0 1 0 1083.50,1225.60ZM1132.20,1225.60A3.5,3.5 0 1 0 1139.20,1225.60A3.5,3.5 0 1 0 1132.20,1225.60ZM1133.20,1226.60A3.5,3.5 0 1 0 1140.20,1226.60A3.5,3.5 0 1 0 1133.20,1226.60ZM1182.80,1226.60A3.5,3.5 0 1 0 1189.80,1226.60A3.5,3.5 0 1 0 1182.80,1226.60ZM1183.80,1227.60A3.5,3.5 0 1 0 1190.80,1227.60A3.5,3.5 0 1 0 1183.80,1227.60ZM1211.80,1227.60A3.5,3.5 0 1 0 1218.80,1227.60A3.5,3.5 0 1 0 1211.80,1227.60ZM1212.80,1228.50A3.5,3.5 0 1 0 1219.80,1228.50A3.5,3.5 0 1 0 1212.80,1228.50ZM1230.20,1228.50A3.5,3.5 0 1 0 1237.20,1228.50A3.5,3.5 0 1 0 1230.20,1228.50ZM1231.20,1229.50A3.5,3.5 0 1 0 1238.20,1229.50A3.5,3.5 0 1 0 1231.20,1229.50ZM1240.30,1229.50A3.5,3.5 0 1 0 1247.30,1229.50A3.5,3.5 0 1 0 1240.30,1229.50ZM1241.30,1230.40A3.5,3.5 0 1 0 1248.30,1230.40A3.5,3.5 0 1 0 1241.30,1230.40ZM1253.50,1230.40A3.5,3.5 0 1 0 1260.50,1230.40A3.5,3.5 0 1 0 1253.50,1230.40ZM1254.50,1231.40A3.5,3.5 0 1 0 1261.50,1231.40A3.5,3.5 0 1 0 1254.50,1231.40ZM1313.50,1231.40A3.5,3.5 0 1 0 1320.50,1231.40A3.5,3.5 0 1 0 1313.50,1231.40ZM1314.50,1232.50A3.5,3.5 0 1 0 1321.50,1232.50A3.5,3.5 0 1 0 1314.50,1232.50ZM1416.50,1232.50A3.5,3.5 0 1 0 1423.50,1232.50A3.5,3.5 0 1 0 1416.50,1232.50ZM1417.50,1233.50A3.5,3.5 0 1 0 1424.50,1233.50A3.5,3.5 0 1 0 1417.50,1233.50ZM1560.50,1233.50A3.5,3.5 0 1 0 1567.50,1233.50A3.5,3.5 0 1 0 1560.50,1233.50ZM1561.50,1234.30A3.5,3.5 0 1 0 1568.50,1234.30A3.5,3.5 0 1 0 1561.50,1234.30Z" fill="#ff0000" fill-rule="nonzero"/>
<path d="M1619.00,1237.80L1619.00,1195.40L1612.00,1195.40L1612.00,1237.80Z" fill="#ff0000" fill-rule="nonzero"/>
<circle cx="1615.5" cy="1195.4" r="3.5" fill="#ff0000"/>
<path d="M1612.00,1237.80L1615.50,1237.80L1615.50,1230.80L1612.00,1230.80Z" fill="#ff0000" fill-rule="nonzero"/>
<path d="M1615.50,1233.10L1662.60,1233.10L1662.60,1226.10L1615.50,1226.10ZM1660.26,1232.20L1661.26,1233.10L1665.94,1227.90L1664.94,1227.00ZM1663.60,1234.00L1755.90,1234.00L1755.90,1227.00L1663.60,1227.00ZM1659.10,1229.60A3.5,3.5 0 1 0 1666.10,1229.60A3.5,3.5 0 1 0 1659.10,1229.60ZM1660.10,1230.50A3.5,3.5 0 1 0 1667.10,1230.50A3.5,3.5 0 1 0 1660.10,1230.50Z" fill="#ff0000" fill-rule="nonzero"/>
</g>
</g>
<g id="axes" shape-rendering="crispEdges">
<rect x="356.00" y="42.00" width="1516.00" height="5.00" fill="#000"/>
<rect x="356.00" y="1263.00" width="1516.00" height="6.00" fill="#000"/>
<rect x="354.00" y="44.00" width="5.00" height="1223.00" fill="#000"/>
<rect x="1869.00" y="44.00" width="5.00" height="1223.00" fill="#000"/>
<line x1="356" y1="166.62" x2="381" y2="166.62" stroke="#000" stroke-width="5.5"/>
<line x1="356" y1="288.74" x2="381" y2="288.74" stroke="#000" stroke-width="5.5"/>
<line x1="356" y1="410.86" x2="381" y2="410.86" stroke="#000" stroke-width="5.5"/>
<line x1="356" y1="532.98" x2="381" y2="532.98" stroke="#000" stroke-width="5.5"/>
<line x1="356" y1="748.62" x2="381" y2="748.62" stroke="#000" stroke-width="5.5"/>
<line x1="356" y1="870.84" x2="381" y2="870.84" stroke="#000" stroke-width="5.5"/>
<line x1="356" y1="993.06" x2="381" y2="993.06" stroke="#000" stroke-width="5.5"/>
<line x1="356" y1="1115.28" x2="381" y2="1115.28" stroke="#000" stroke-width="5.5"/>
<line x1="356" y1="1237.50" x2="381" y2="1237.50" stroke="#000" stroke-width="5.5"/>
<line x1="356" y1="105.56" x2="369" y2="105.56" stroke="#000" stroke-width="5.5"/>
<line x1="356" y1="227.68" x2="369" y2="227.68" stroke="#000" stroke-width="5.5"/>
<line x1="356" y1="349.80" x2="369" y2="349.80" stroke="#000" stroke-width="5.5"/>
<line x1="356" y1="471.92" x2="369" y2="471.92" stroke="#000" stroke-width="5.5"/>
<line x1="356" y1="594.04" x2="369" y2="594.04" stroke="#000" stroke-width="5.5"/>
<line x1="356" y1="687.51" x2="369" y2="687.51" stroke="#000" stroke-width="5.5"/>
<line x1="356" y1="809.73" x2="369" y2="809.73" stroke="#000" stroke-width="5.5"/>
<line x1="356" y1="931.95" x2="369" y2="931.95" stroke="#000" stroke-width="5.5"/>
<line x1="356" y1="1054.17" x2="369" y2="1054.17" stroke="#000" stroke-width="5.5"/>
<line x1="356" y1="1176.39" x2="369" y2="1176.39" stroke="#000" stroke-width="5.5"/>
<line x1="496.50" y1="1266" x2="496.50" y2="1242" stroke="#000" stroke-width="5.5"/>
<line x1="776.10" y1="1266" x2="776.10" y2="1242" stroke="#000" stroke-width="5.5"/>
<line x1="1055.70" y1="1266" x2="1055.70" y2="1242" stroke="#000" stroke-width="5.5"/>
<line x1="1335.30" y1="1266" x2="1335.30" y2="1242" stroke="#000" stroke-width="5.5"/>
<line x1="1614.90" y1="1266" x2="1614.90" y2="1242" stroke="#000" stroke-width="5.5"/>
<line x1="636.00" y1="1266" x2="636.00" y2="1254" stroke="#000" stroke-width="5.5"/>
<line x1="915.67" y1="1266" x2="915.67" y2="1254" stroke="#000" stroke-width="5.5"/>
<line x1="1195.34" y1="1266" x2="1195.34" y2="1254" stroke="#000" stroke-width="5.5"/>
<line x1="1475.01" y1="1266" x2="1475.01" y2="1254" stroke="#000" stroke-width="5.5"/>
<line x1="1754.68" y1="1266" x2="1754.68" y2="1254" stroke="#000" stroke-width="5.5"/>
</g>
<g id="breaks">
<line x1="332.25" y1="665.75" x2="380.85" y2="644.7" stroke="#000" stroke-width="6" shape-rendering="crispEdges"/>
<clipPath id="brk"><rect x="1840" y="630" width="44.1" height="50"/></clipPath>
<line x1="1847.2" y1="665.9" x2="1895.8" y2="644.85" stroke="#000" stroke-width="6" clip-path="url(#brk)" shape-rendering="crispEdges"/>
</g>
<g id="inset">
<g shape-rendering="crispEdges">
<rect x="914.00" y="67.00" width="2.00" height="381.00" fill="#000"/>
<rect x="914.00" y="446.00" width="708.50" height="2.00" fill="#000"/>
<rect x="914.00" y="67.00" width="10.00" height="2.00" fill="#000"/>
<rect x="914.00" y="121.00" width="10.00" height="2.00" fill="#000"/>
<rect x="914.00" y="175.00" width="10.00" height="2.00" fill="#000"/>
<rect x="914.00" y="229.00" width="10.00" height="2.00" fill="#000"/>
<rect x="914.00" y="283.00" width="10.00" height="2.00" fill="#000"/>
<rect x="914.00" y="337.00" width="10.00" height="2.00" fill="#000"/>
<rect x="914.00" y="392.00" width="10.00" height="2.00" fill="#000"/>
<rect x="914.00" y="94.00" width="6.00" height="2.00" fill="#000"/>
<rect x="914.00" y="148.00" width="6.00" height="2.00" fill="#000"/>
<rect x="914.00" y="202.00" width="6.00" height="2.00" fill="#000"/>
<rect x="914.00" y="256.00" width="6.00" height="2.00" fill="#000"/>
<rect x="914.00" y="310.00" width="6.00" height="2.00" fill="#000"/>
<rect x="914.00" y="364.00" width="6.00" height="2.00" fill="#000"/>
<rect x="914.00" y="419.00" width="6.00" height="2.00" fill="#000"/>
<rect x="961.00" y="438.00" width="2.00" height="9.00" fill="#000"/>
<rect x="1080.50" y="438.00" width="2.00" height="9.00" fill="#000"/>
<rect x="1200.00" y="438.00" width="2.00" height="9.00" fill="#000"/>
<rect x="1320.00" y="438.00" width="2.00" height="9.00" fill="#000"/>
<rect x="1440.20" y="438.00" width="2.00" height="9.00" fill="#000"/>
<rect x="1560.20" y="438.00" width="2.00" height="9.00" fill="#000"/>
<rect x="1020.80" y="442.00" width="2.00" height="5.00" fill="#000"/>
<rect x="1140.20" y="442.00" width="2.00" height="5.00" fill="#000"/>
<rect x="1260.00" y="442.00" width="2.00" height="5.00" fill="#000"/>
<rect x="1380.00" y="442.00" width="2.00" height="5.00" fill="#000"/>
<rect x="1500.20" y="442.00" width="2.00" height="5.00" fill="#000"/>
<rect x="1620.20" y="442.00" width="2.00" height="5.00" fill="#000"/>
<rect x="916.00" y="416.00" width="360.00" height="3.00" fill="#00ff00"/>
<rect x="1279.00" y="433.00" width="344.00" height="3.00" fill="#00ff00"/>
<rect x="916.00" y="444.00" width="360.00" height="2.00" fill="#0000ff"/>
<rect x="1252.00" y="443.00" width="24.00" height="3.00" fill="#0000ff"/>
<rect x="1276.00" y="119.00" width="3.00" height="328.00" fill="#0000ff"/>
<rect x="1279.00" y="378.00" width="51.00" height="3.00" fill="#0000ff"/>
<rect x="1312.00" y="379.00" width="311.00" height="3.00" fill="#0000ff"/>
<rect x="1277.00" y="103.00" width="1.40" height="1.30" fill="#0000ff"/>
<rect x="916.00" y="446.00" width="707.00" height="1.00" fill="#ff0000"/><polygon points="1275.00,447.00 1277.50,444.50 1280.00,447.00" fill="#ff0000"/>
</g>
<text transform="translate(905.80,73.80) scale(1.0,0.94)" font-size="19.9" text-anchor="end" class="tk">1,400,000</text>
<text transform="translate(905.80,127.80) scale(1.0,0.94)" font-size="19.9" text-anchor="end" class="tk">1,200,000</text>
<text transform="translate(905.80,181.80) scale(1.0,0.94)" font-size="19.9" text-anchor="end" class="tk">1,000,000</text>
<text transform="translate(905.80,235.80) scale(1.0,0.94)" font-size="19.9" text-anchor="end" class="tk">800,000</text>
<text transform="translate(905.80,289.80) scale(1.0,0.94)" font-size="19.9" text-anchor="end" class="tk">600,000</text>
<text transform="translate(905.80,343.80) scale(1.0,0.94)" font-size="19.9" text-anchor="end" class="tk">400,000</text>
<text transform="translate(905.80,398.80) scale(1.0,0.94)" font-size="19.9" text-anchor="end" class="tk">200,000</text>
<text transform="translate(962.00,470.70) scale(1.0,0.94)" font-size="19.9" text-anchor="middle" class="tk">101,420</text>
<text transform="translate(1081.50,470.70) scale(1.0,0.94)" font-size="19.9" text-anchor="middle" class="tk">101,640</text>
<text transform="translate(1201.00,470.70) scale(1.0,0.94)" font-size="19.9" text-anchor="middle" class="tk">101,860</text>
<text transform="translate(1321.00,470.70) scale(1.0,0.94)" font-size="19.9" text-anchor="middle" class="tk">102,080</text>
<text transform="translate(1441.20,470.70) scale(1.0,0.94)" font-size="19.9" text-anchor="middle" class="tk">102,300</text>
<text transform="translate(1561.20,470.70) scale(1.0,0.94)" font-size="19.9" text-anchor="middle" class="tk">102,520</text>
<text transform="translate(1268.75,510.70) scale(1.0,1.04)" font-size="26.0" text-anchor="middle">Timestep</text>
<g transform="translate(816.0,333.1) rotate(-90) scale(0.4135,0.41)"><text transform="scale(1,1.049)" font-size="63.5">Kinetic energy</text><text transform="translate(375.9,-3.4) scale(1.156,1)" font-size="51.6" class="cjk">（</text><text transform="translate(441.8,0) scale(1,1.049)" font-size="63.5">J</text><text transform="translate(470.2,-2.4) scale(1.274,1)" font-size="52.6" class="cjk">）</text></g>
</g>
<g id="labels">
<text transform="translate(330.30,58.50) scale(1.0,1.014)" font-size="52.0" text-anchor="end">22,000,000</text>
<text transform="translate(330.30,180.62) scale(1.0,1.014)" font-size="52.0" text-anchor="end">17,600,000</text>
<text transform="translate(330.30,302.74) scale(1.0,1.014)" font-size="52.0" text-anchor="end">13,200,000</text>
<text transform="translate(330.30,424.86) scale(1.0,1.014)" font-size="52.0" text-anchor="end">8,800,000</text>
<text transform="translate(330.30,546.98) scale(1.0,1.014)" font-size="52.0" text-anchor="end">4,400,000</text>
<text transform="translate(330.30,762.62) scale(1.0,1.014)" font-size="52.0" text-anchor="end">840</text>
<text transform="translate(330.30,884.84) scale(1.0,1.014)" font-size="52.0" text-anchor="end">630</text>
<text transform="translate(330.30,1007.06) scale(1.0,1.014)" font-size="52.0" text-anchor="end">420</text>
<text transform="translate(330.30,1129.28) scale(1.0,1.014)" font-size="52.0" text-anchor="end">210</text>
<text transform="translate(330.30,1251.50) scale(1.0,1.014)" font-size="52.0" text-anchor="end">0</text>
<text transform="translate(496.50,1331.70) scale(1.0,1.0)" font-size="52.0" text-anchor="middle">78,000</text>
<text transform="translate(776.10,1331.70) scale(1.0,1.0)" font-size="52.0" text-anchor="middle">84,000</text>
<text transform="translate(1055.70,1331.70) scale(1.0,1.0)" font-size="52.0" text-anchor="middle">90,000</text>
<text transform="translate(1335.30,1331.70) scale(1.0,1.0)" font-size="52.0" text-anchor="middle">96,000</text>
<text transform="translate(1614.90,1331.70) scale(1.0,1.0)" font-size="52.0" text-anchor="middle">102,000</text>
<text transform="translate(1114.20,1431.20) scale(1.0,1.03)" font-size="63.2" text-anchor="middle">Timestep</text>
<g transform="translate(70.0,920.6) rotate(-90) scale(1,1)"><text transform="scale(1,1.049)" font-size="63.5">Kinetic energy</text><text transform="translate(375.9,-3.4) scale(1.156,1)" font-size="51.6" class="cjk">（</text><text transform="translate(441.8,0) scale(1,1.049)" font-size="63.5">J</text><text transform="translate(470.2,-2.4) scale(1.274,1)" font-size="52.6" class="cjk">）</text></g>
<rect x="1106.9" y="845.15" width="129.2" height="7.5" fill="#00ff00" shape-rendering="crispEdges"/>
<text transform="translate(1251.30,868.00) scale(1.0,1.03)" font-size="57.2" text-anchor="start">Y-kinetic energy</text>
<rect x="1106.9" y="915.75" width="129.2" height="7.5" fill="#0000ff" shape-rendering="crispEdges"/>
<text transform="translate(1249.00,939.00) scale(1.0,1.03)" font-size="57.2" text-anchor="start">Z-kinetic energy</text>
<rect x="1106.9" y="986.75" width="129.2" height="7.5" fill="#ff0000" shape-rendering="crispEdges"/>
<text transform="translate(1249.00,1010.10) scale(1.0,1.03)" font-size="57.2" text-anchor="start">Normalized kinetic energy</text>
</g>
<g id="annot">
<path d="M1584.1,692.9L1584.1,586L1644,586L1644,691.1L1582.3,691.1" fill="none" stroke="#000" stroke-opacity="0.5" stroke-width="3.7" stroke-dasharray="9.8 3.75" stroke-linejoin="bevel"/>
<rect x="1582.25" y="689.25" width="3.7" height="3.7" fill="#000" fill-opacity="0.5"/>
<line x1="1556.37" y1="508.56" x2="1614.9" y2="579.9" stroke="#000" stroke-width="3"/>
<polygon points="1538.1,486.3 1551.38,515.25 1563.90,504.97" fill="#000"/>
</g>
</svg>
</body>
</html>
